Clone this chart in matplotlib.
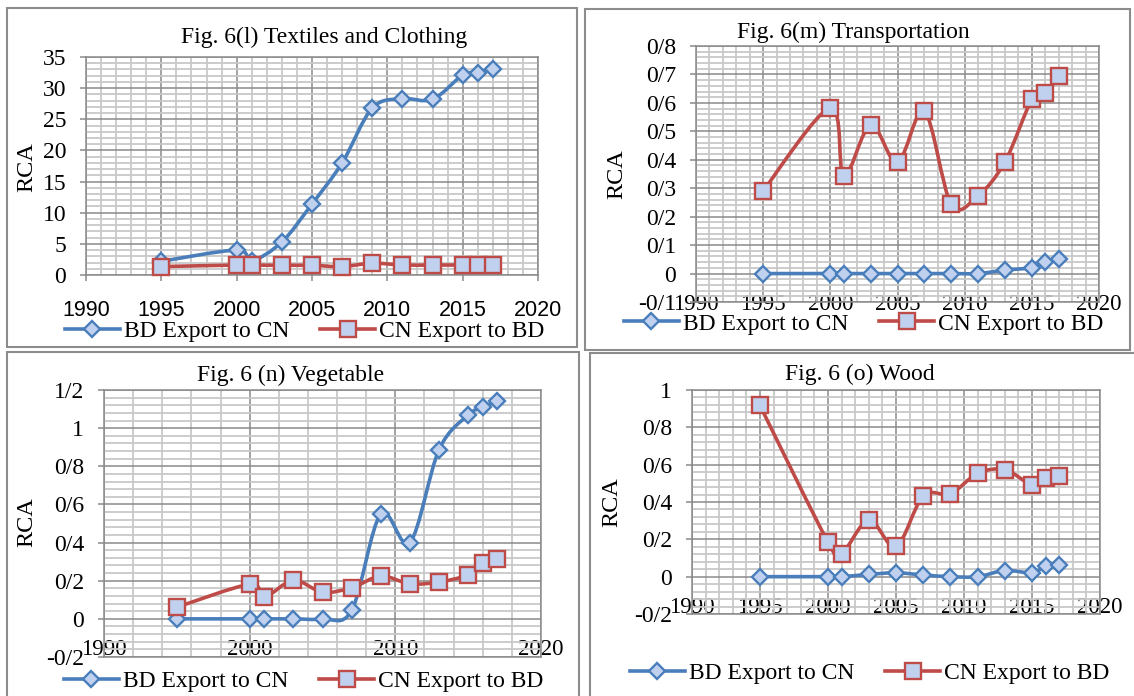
import matplotlib
matplotlib.use('Agg')
import matplotlib.pyplot as plt
from matplotlib.path import Path
from matplotlib.patches import PathPatch, Rectangle
from matplotlib.lines import Line2D
from matplotlib.ticker import MultipleLocator, FuncFormatter

plt.rcParams['font.family'] = 'Liberation Serif'

years = [1995, 2000, 2001, 2003, 2005, 2007, 2009, 2011, 2013, 2015, 2016, 2017]

# RCA values per product group
textiles_bd = [2.2, 4.0, 2.3, 5.3, 11.4, 18.0, 26.8, 28.3, 28.2, 32.1, 32.5, 33.1]
textiles_cn = [1.35, 1.6, 1.6, 1.55, 1.55, 1.35, 1.9, 1.6, 1.6, 1.6, 1.6, 1.6]

transport_bd = [0, 0, 0, 0, 0, 0, 0, 0, 0.012, 0.021, 0.041, 0.051]
transport_cn = [0.291, 0.582, 0.342, 0.522, 0.391, 0.570, 0.244, 0.274, 0.393, 0.612, 0.634, 0.693]

vegetable_bd = [0, 0, 0, 0, 0, 0.044, 0.549, 0.40, 0.887, 1.069, 1.109, 1.144]
vegetable_cn = [0.061, 0.181, 0.114, 0.202, 0.140, 0.163, 0.224, 0.184, 0.193, 0.231, 0.291, 0.315]

wood_bd = [0, 0, 0, 0.012, 0.021, 0.009, 0, 0, 0.033, 0.021, 0.056, 0.065]
wood_cn = [0.917, 0.185, 0.123, 0.303, 0.162, 0.432, 0.444, 0.553, 0.573, 0.492, 0.527, 0.541]

BLUE = '#4A7EBB'
RED = '#BE4B48'
FILL = '#C0D1EF'
GRID_MAJOR = '#8A8A8A'
GRID_MINOR = '#C8C8C8'
LW = 2.6

W, H = 1134, 696
fig = plt.figure(figsize=(W / 100, H / 100), dpi=100)


def smooth_path(x, y):
    # cubic bezier through every point (excel style smoothed line)
    pts = list(zip(x, y))
    n = len(pts)
    verts = [pts[0]]
    codes = [Path.MOVETO]
    for i in range(n - 1):
        p0 = pts[i - 1] if i > 0 else pts[i]
        p1 = pts[i]
        p2 = pts[i + 1]
        p3 = pts[i + 2] if i + 2 < n else pts[i + 1]
        c1 = (p1[0] + (p2[0] - p0[0]) / 6, p1[1] + (p2[1] - p0[1]) / 6)
        c2 = (p2[0] - (p3[0] - p1[0]) / 6, p2[1] - (p3[1] - p1[1]) / 6)
        verts += [c1, c2, p2]
        codes += [Path.CURVE4] * 3
    return Path(verts, codes)


def slash_fmt(v, pos):
    s = '%g' % round(v, 3)
    if s == '-0':
        s = '0'
    return s.replace('.', '/')


def box(l, t, r, b):
    fig.patches.append(Rectangle((l / W, 1 - b / H), (r - l) / W, (b - t) / H,
                                 transform=fig.transFigure, fill=False,
                                 edgecolor='#8C8C8C', lw=1.5))


def panel(rect, ylim, ymaj, ymin, xmaj, xmin, bd, cn, title, title_xy,
          ylab_xy, leg_xy, xpad, xfont='Liberation Serif', xsize=16.5, xticklen=0):
    l, t, r, b = rect
    ax = fig.add_axes([l / W, 1 - b / H, (r - l) / W, (b - t) / H])
    ax.set_xlim(1990, 2020)
    ax.set_ylim(*ylim)
    ax.xaxis.set_major_locator(MultipleLocator(xmaj))
    ax.xaxis.set_minor_locator(MultipleLocator(xmin))
    ax.yaxis.set_major_locator(MultipleLocator(ymaj))
    ax.yaxis.set_minor_locator(MultipleLocator(ymin))
    ax.yaxis.set_major_formatter(FuncFormatter(slash_fmt))
    ax.grid(which='minor', color=GRID_MINOR, lw=1.3, zorder=0)
    ax.grid(which='major', color=GRID_MAJOR, lw=1.1, zorder=0)
    ax.set_axisbelow(True)
    for sp in ax.spines.values():
        sp.set_color(GRID_MAJOR)
        sp.set_linewidth(1.1)
    ax.tick_params(which='minor', length=0)
    ax.tick_params(axis='y', which='major', length=4.3, width=1.1, color=GRID_MAJOR,
                   pad=10, labelsize=17)
    ax.tick_params(axis='x', which='major', length=xticklen, width=1.1, color=GRID_MAJOR,
                   pad=xpad, labelsize=xsize)
    for lab in ax.get_xticklabels():
        lab.set_fontfamily(xfont)

    ax.add_patch(PathPatch(smooth_path(years, bd), fill=False, edgecolor=BLUE,
                           lw=LW, zorder=3, capstyle='round', joinstyle='round'))
    ax.plot(years, bd, ls='none', marker='D', ms=7.8, mfc=FILL, mec=BLUE, mew=1.7,
            zorder=4, clip_on=False)
    ax.add_patch(PathPatch(smooth_path(years, cn), fill=False, edgecolor=RED,
                           lw=LW, zorder=5, capstyle='round', joinstyle='round'))
    ax.plot(years, cn, ls='none', marker='s', ms=11, mfc=FILL, mec=RED, mew=1.7,
            zorder=6, clip_on=False)

    fig.text(title_xy[0] / W, 1 - title_xy[1] / H, title, ha='center', va='baseline',
             fontsize=17)
    fig.text(ylab_xy[0] / W, 1 - ylab_xy[1] / H, 'RCA', rotation=90, ha='center',
             va='center', fontsize=17.5)

    handles = [
        Line2D([0], [0], color=BLUE, lw=LW, marker='D', ms=7.8, mfc=FILL, mec=BLUE, mew=1.7),
        Line2D([0], [0], color=RED, lw=LW, marker='s', ms=11, mfc=FILL, mec=RED, mew=1.7),
    ]
    fig.legend(handles, ['BD Export to CN', 'CN Export to BD'], loc='center',
               bbox_to_anchor=(leg_xy[0] / W, 1 - leg_xy[1] / H), ncol=2,
               frameon=False, fontsize=17, numpoints=1, handlelength=2.3,
               handletextpad=0.2, columnspacing=1.3, borderaxespad=0, borderpad=0)
    return ax


# panel frames
box(7, 8, 577, 347)
box(585, 9, 1130, 350)
box(7, 352, 579, 700)
box(590, 353, 1138, 700)

panel((86, 57, 538, 275), (0, 35), 5, 1, 5, 1, textiles_bd, textiles_cn,
      'Fig. 6(l) Textiles and Clothing', (324, 43), (27, 167), (305, 331),
      xpad=13.5, xfont='Liberation Sans', xsize=15.5, xticklen=4.3)

panel((696, 46, 1099, 302), (-0.1, 0.8), 0.1, 0.02, 5, 1, transport_bd, transport_cn,
      'Fig. 6(m) Transportation', (853, 38), (617, 174), (864, 324),
      xpad=-5.8)

panel((104, 390, 541, 657), (-0.2, 1.2), 0.2, 0.04, 10, 2, vegetable_bd, vegetable_cn,
      'Fig. 6 (n) Vegetable', (291, 381), (27, 522), (304, 681),
      xpad=-13)

panel((692, 390, 1100, 614), (-0.2, 1.0), 0.2, 0.04, 5, 1, wood_bd, wood_cn,
      'Fig. 6 (o) Wood', (860, 380), (612, 502), (870, 673),
      xpad=-12.2)

fig.savefig('out.png', dpi=100)
